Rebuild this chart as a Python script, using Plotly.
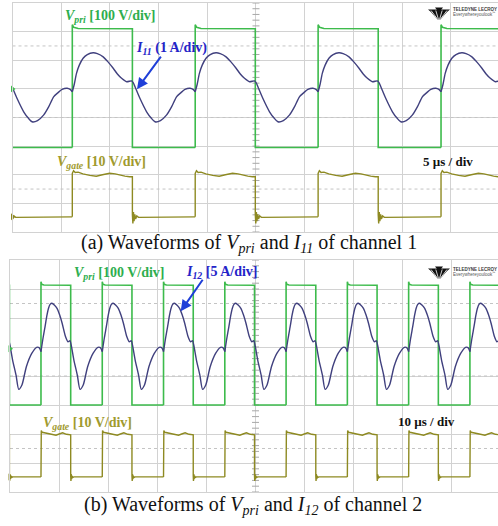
import numpy as np
import plotly.graph_objects as go

W, H = 498, 526

# ---------------- data (time in µs, amplitude in screen divisions) ----------------
# Panel (a): 5 µs/div
PERIOD_A = 12.62
FIRST_RISE_A = 6.14
VPRI_A_T = [0.0, 0.0, 0.15, 0.6, 6.17, 6.17, 12.62]
VPRI_A_V = [2.95, 7.24, 7.15, 7.11, 7.10, 2.95, 2.95]
I11_T = [0.0, 0.21, 0.43, 0.72, 1.11, 1.54, 2.14, 2.57, 3.17, 3.60, 4.20, 4.63, 5.06, 5.58,
         6.09, 6.25, 6.43, 6.94, 7.63, 8.10, 8.49, 9.05, 9.69, 10.19, 10.72, 11.16, 11.57,
         12.09, 12.40, 12.62]
I11_V = [4.90, 5.17, 5.54, 5.83, 6.07, 6.20, 6.26, 6.23, 6.12, 5.97, 5.72, 5.52, 5.37, 5.25,
         5.28, 5.22, 5.08, 4.67, 4.20, 3.98, 3.85, 3.89, 4.09, 4.37, 4.73, 4.87, 4.98,
         5.02, 4.98, 4.90]
VGATE_A_T = [0.0, 0.0, 0.13, 0.3, 0.6, 1.09, 1.8, 2.46, 3.1, 3.83, 4.4, 4.86, 5.4, 5.88,
             6.17, 6.17, 6.22, 6.28, 6.34, 6.42, 6.5, 6.62, 6.8, 12.62]
VGATE_A_V = [0.53, 2.05, 2.14, 2.08, 2.09, 2.03, 1.98, 1.95, 2.0, 2.05, 2.03, 1.99, 1.95, 1.93,
             1.93, 0.60, 0.30, 0.70, 0.38, 0.62, 0.45, 0.56, 0.51, 0.53]

# Panel (b): 10 µs/div
PERIOD_B = 12.48
FIRST_RISE_B = 6.31
VPRI_B_T = [0.0, 0.0, 0.15, 0.6, 6.05, 6.05, 12.48]
VPRI_B_V = [3.0, 7.25, 7.16, 7.14, 7.13, 3.0, 3.0]
I12_T = [0.0, 0.42, 0.83, 1.19, 1.52, 1.85, 2.23, 2.71, 3.27, 3.81, 4.31, 4.99, 5.5, 5.9,
         6.15, 6.7, 7.4, 7.95, 8.6, 9.5, 10.6, 11.6, 12.1, 12.48]
I12_V = [4.84, 5.31, 5.70, 6.07, 6.33, 6.47, 6.51, 6.45, 6.33, 6.10, 5.82, 5.36, 5.18, 5.22,
         5.07, 4.55, 4.03, 3.54, 3.69, 4.32, 4.78, 4.99, 4.98, 4.84]
VGATE_B_T = [0.0, 0.0, 0.06, 0.25, 0.7, 1.7, 2.4, 3.06, 3.7, 4.4, 5.2, 5.63, 6.05, 6.05,
             6.1, 6.16, 6.22, 6.3, 6.45, 6.7, 12.48]
VGATE_B_V = [0.52, 2.05, 2.12, 2.06, 2.04, 2.0, 1.97, 1.96, 2.0, 2.04, 1.99, 1.99, 1.97, 0.55,
             0.38, 0.62, 0.44, 0.56, 0.50, 0.52, 0.52]

XMAX_A = 49.85   # visible time window of panel (a)
XMAX_B = 99.39   # visible time window of panel (b)
CENTER_A = 25.0
CENTER_B = 50.0

# ---------------- colours / fonts ----------------
C_VPRI = "#3dbb4c"
C_VPRI_TXT = "#2eae4e"
C_I = "#40407e"
C_I_TXT = "#2424c8"
C_ARROW = "#1f3fd8"
C_GATE = "#8e8a22"
C_GATE_TXT = "#a09a2e"
C_GRID = "#d2d2d2"
SERIF = "Liberation Serif, Times New Roman, serif"
SANS = "Liberation Sans, Arial, sans-serif"


def tile(tt, vv, t0, period, tmax):
    ts, vs = [], []
    for k in range(-1, int(tmax / period) + 2):
        ts.extend((np.asarray(tt) + t0 + k * period).tolist())
        vs.extend(list(vv))
        ts.append(None)
        vs.append(None)
    return ts, vs


def px(x):
    return x / W


def py(y):
    return 1 - y / H


fig = go.Figure()

panels = [
    dict(xa="x", ya="y", period=PERIOD_A, t0=FIRST_RISE_A, xmax=XMAX_A, xc=CENTER_A,
         vpri=(VPRI_A_T, VPRI_A_V), cur=(I11_T, I11_V), gate=(VGATE_A_T, VGATE_A_V)),
    dict(xa="x2", ya="y2", period=PERIOD_B, t0=FIRST_RISE_B, xmax=XMAX_B, xc=CENTER_B,
         vpri=(VPRI_B_T, VPRI_B_V), cur=(I12_T, I12_V), gate=(VGATE_B_T, VGATE_B_V)),
]

for p in panels:
    for yl in (1.5, 4.0, 6.5):
        fig.add_trace(go.Scatter(x=[0, p["xmax"]], y=[yl, yl], mode="lines",
                                 line=dict(color="#c4c4c4", width=1, dash="dot"),
                                 xaxis=p["xa"], yaxis=p["ya"], hoverinfo="skip", showlegend=False))
    yt = np.arange(0, 8.01, 0.2)
    fig.add_trace(go.Scatter(x=[p["xc"]] * len(yt), y=yt, mode="markers",
                             marker=dict(symbol="line-ew", size=5, line=dict(color="#a8a8a8", width=1)),
                             xaxis=p["xa"], yaxis=p["ya"], hoverinfo="skip", showlegend=False))
    t, v = tile(*p["vpri"], p["t0"], p["period"], p["xmax"])
    fig.add_trace(go.Scatter(x=t, y=v, mode="lines", line=dict(color=C_VPRI, width=1.6),
                             xaxis=p["xa"], yaxis=p["ya"], showlegend=False))
    t, v = tile(*p["gate"], p["t0"], p["period"], p["xmax"])
    fig.add_trace(go.Scatter(x=t, y=v, mode="lines", line=dict(color=C_GATE, width=1.4),
                             xaxis=p["xa"], yaxis=p["ya"], showlegend=False))
    t, v = tile(*p["cur"], p["t0"], p["period"], p["xmax"])
    fig.add_trace(go.Scatter(x=t, y=v, mode="lines",
                             line=dict(color=C_I, width=1.4, shape="spline", smoothing=0.7),
                             xaxis=p["xa"], yaxis=p["ya"], showlegend=False))
    fig.add_trace(go.Scatter(x=[0, 0], y=[p["cur"][1][-1] + 0.1, p["gate"][1][-1]], mode="markers",
                             marker=dict(symbol="triangle-right", size=6, color=[C_VPRI, C_GATE]),
                             cliponaxis=False, xaxis=p["xa"], yaxis=p["ya"], showlegend=False))

axis_common = dict(showgrid=True, gridcolor=C_GRID, gridwidth=1, zeroline=False,
                   showticklabels=False, ticks="", showline=True, linecolor=C_GRID,
                   linewidth=1, mirror=True)

fig.update_layout(
    width=W, height=H, margin=dict(l=0, r=0, t=0, b=0),
    paper_bgcolor="white", plot_bgcolor="white",
    xaxis=dict(domain=[px(12.5), 1], range=[0, XMAX_A], dtick=5, tick0=0, **axis_common),
    yaxis=dict(domain=[py(232), py(3)], range=[0, 8], dtick=1, tick0=0, **axis_common),
    xaxis2=dict(domain=[px(10), 1], range=[0, XMAX_B], dtick=10, tick0=0, anchor="y2", **axis_common),
    yaxis2=dict(domain=[py(492), py(260)], range=[0, 8], dtick=1, tick0=0, anchor="x2", **axis_common),
)

ann = []


def label(text, x, y, color, size=14, family=SERIF, anchor="left"):
    ann.append(dict(text=text, x=px(x), y=py(y), xref="paper", yref="paper",
                    xanchor=anchor, yanchor="middle", showarrow=False,
                    font=dict(family=family, size=size, color=color)))


label("<b><i>V<sub>pri</sub></i> [100 V/div]</b>", 63, 16.5, C_VPRI_TXT)
label("<b><i>I<sub>11</sub></i> (1 A/div)</b>", 134, 48, C_I_TXT)
label("<b><i>V<sub>gate</sub></i> [10 V/div]</b>", 55, 163, C_GATE_TXT)
label("<b>5 µs / div</b>", 421, 161.5, "#111111", size=13)
label("(a) Waveforms of <i>V<sub>pri</sub></i> and <i>I<sub>11</sub></i> of channel 1", 249, 244,
      "#111111", size=20, anchor="center")
label("<b><i>V<sub>pri</sub></i> [100 V/div]</b>", 72, 273, C_VPRI_TXT)
label("<b><i>I<sub>12</sub></i> [5 A/div]</b>", 184, 272, C_I_TXT)
label("<b><i>V<sub>gate</sub></i> [10 V/div]</b>", 41, 423, C_GATE_TXT)
label("<b>10 µs / div</b>", 396, 421, "#111111", size=13)
label("(b) Waveforms of <i>V<sub>pri</sub></i> and <i>I<sub>12</sub></i> of channel 2", 253, 505,
      "#111111", size=20, anchor="center")

for top in (9.5, 269):
    label("<b>TELEDYNE LECROY</b>", 451, top, "#3a3a3a", size=4.5, family=SANS)
    label("Everywhereyoulook<sup>™</sup>", 451, top + 4.8, "#555555", size=4.5, family=SANS)

ta = FIRST_RISE_A + 6.64
ya = float(np.interp(6.64, I11_T, I11_V))
ann.append(dict(x=ta, y=ya + 0.08, xref="x", yref="y", ax=25, ay=-34, text="", showarrow=True,
                arrowhead=2, arrowsize=1.1, arrowwidth=2, arrowcolor=C_ARROW, standoff=0))
tb = FIRST_RISE_B + 2 * PERIOD_B + 3.5
yb = float(np.interp(3.5, I12_T, I12_V))
ann.append(dict(x=tb, y=yb, xref="x2", yref="y2", ax=23, ay=-33, text="", showarrow=True,
                arrowhead=2, arrowsize=1.1, arrowwidth=2, arrowcolor=C_ARROW, standoff=0))

fig.update_layout(annotations=ann)

shapes = []
for top in (7.5, 266.5):
    l, r, cx, bot = 428, 450, 439, top + 12
    shapes.append(dict(type="path", xref="paper", yref="paper",
                       path=f"M {px(l)},{py(top+2)} L {px(r)},{py(top+2)} L {px(r-3)},{py(top+4.5)} "
                            f"L {px(cx+1.5)},{py(bot)} L {px(cx-1.5)},{py(bot)} L {px(l+3)},{py(top+4.5)} Z",
                       fillcolor="#111111", line=dict(width=0)))
    shapes.append(dict(type="path", xref="paper", yref="paper",
                       path=f"M {px(cx-4)},{py(top)} L {px(cx+4)},{py(top)} L {px(cx)},{py(top+5)} Z",
                       fillcolor="#111111", line=dict(width=0)))
    for dx in (-5, -2, 2, 5):
        shapes.append(dict(type="line", xref="paper", yref="paper",
                           x0=px(cx + dx * 0.25), y0=py(bot), x1=px(cx + dx * 1.6), y1=py(top + 3),
                           line=dict(color="white", width=0.8)))
fig.update_layout(shapes=shapes)

fig.write_html("out.html", config={"displayModeBar": False},
               post_script="document.body.style.margin='0';document.body.style.overflow='hidden';")
